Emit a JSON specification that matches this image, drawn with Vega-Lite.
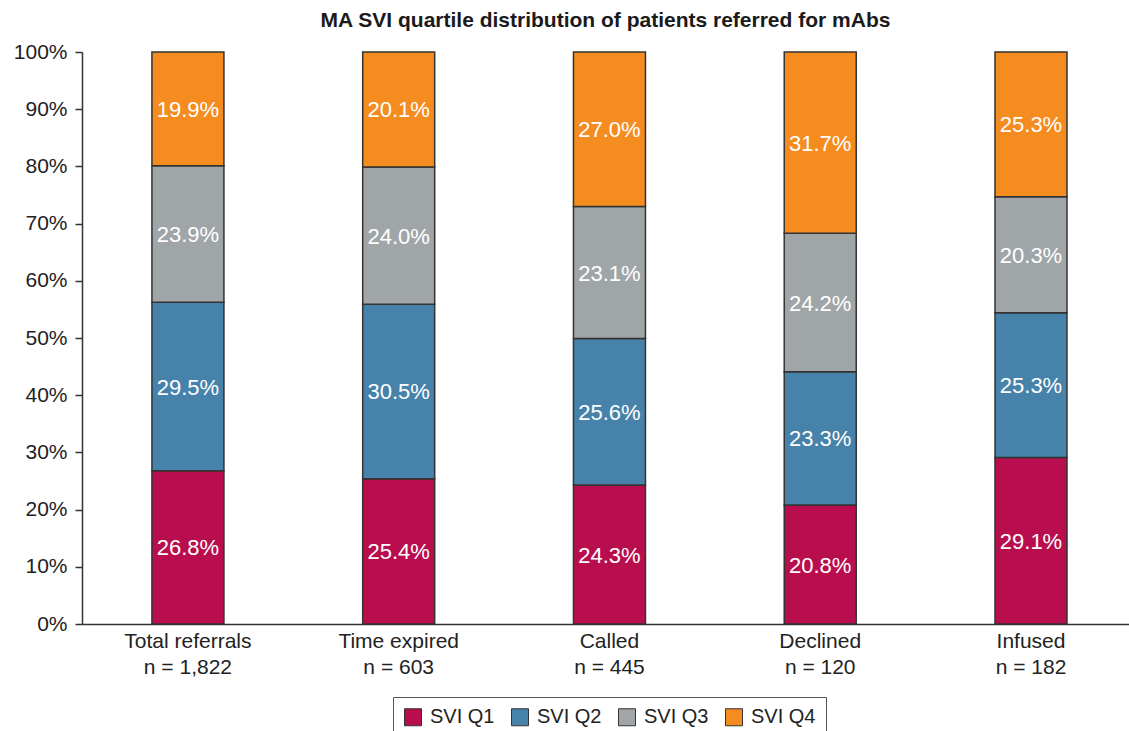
{
  "$schema": "https://vega.github.io/schema/vega-lite/v6.json",
  "width": 1047,
  "height": 572,
  "autosize": {"type": "none"},
  "padding": {"left": 82, "top": 52, "right": 0, "bottom": 107},
  "background": "white",
  "config": {
    "font": "Liberation Sans",
    "view": {"stroke": null}
  },
  "title": {
    "text": "MA SVI quartile distribution of patients referred for mAbs",
    "fontSize": 21,
    "fontWeight": "bold",
    "color": "#1a1a1a",
    "anchor": "middle",
    "offset": 10
  },
  "data": {
    "values": [
      {"group": "Total referrals|n = 1,822", "q": 1, "quartile": "SVI Q1", "value": 26.8},
      {"group": "Total referrals|n = 1,822", "q": 2, "quartile": "SVI Q2", "value": 29.5},
      {"group": "Total referrals|n = 1,822", "q": 3, "quartile": "SVI Q3", "value": 23.9},
      {"group": "Total referrals|n = 1,822", "q": 4, "quartile": "SVI Q4", "value": 19.9},
      {"group": "Time expired|n = 603", "q": 1, "quartile": "SVI Q1", "value": 25.4},
      {"group": "Time expired|n = 603", "q": 2, "quartile": "SVI Q2", "value": 30.5},
      {"group": "Time expired|n = 603", "q": 3, "quartile": "SVI Q3", "value": 24.0},
      {"group": "Time expired|n = 603", "q": 4, "quartile": "SVI Q4", "value": 20.1},
      {"group": "Called|n = 445", "q": 1, "quartile": "SVI Q1", "value": 24.3},
      {"group": "Called|n = 445", "q": 2, "quartile": "SVI Q2", "value": 25.6},
      {"group": "Called|n = 445", "q": 3, "quartile": "SVI Q3", "value": 23.1},
      {"group": "Called|n = 445", "q": 4, "quartile": "SVI Q4", "value": 27.0},
      {"group": "Declined|n = 120", "q": 1, "quartile": "SVI Q1", "value": 20.8},
      {"group": "Declined|n = 120", "q": 2, "quartile": "SVI Q2", "value": 23.3},
      {"group": "Declined|n = 120", "q": 3, "quartile": "SVI Q3", "value": 24.2},
      {"group": "Declined|n = 120", "q": 4, "quartile": "SVI Q4", "value": 31.7},
      {"group": "Infused|n = 182", "q": 1, "quartile": "SVI Q1", "value": 29.1},
      {"group": "Infused|n = 182", "q": 2, "quartile": "SVI Q2", "value": 25.3},
      {"group": "Infused|n = 182", "q": 3, "quartile": "SVI Q3", "value": 20.3},
      {"group": "Infused|n = 182", "q": 4, "quartile": "SVI Q4", "value": 25.3}
    ]
  },
  "transform": [
    {"stack": "value", "groupby": ["group"], "sort": [{"field": "q", "order": "ascending"}], "offset": "normalize", "as": ["y0", "y1"]},
    {"calculate": "(datum.y0 + datum.y1) / 2", "as": "mid"},
    {"calculate": "format(datum.value, '.1f') + '%'", "as": "label"}
  ],
  "encoding": {
    "x": {
      "field": "group",
      "type": "nominal",
      "sort": null,
      "title": null,
      "scale": {"paddingInner": 0.6584, "paddingOuter": 0.313, "align": 0.53},
      "axis": {
        "labelExpr": "split(datum.label, '|')",
        "labelAngle": 0,
        "labelFontSize": 21,
        "labelColor": "#222",
        "labelPadding": 6,
        "labelLineHeight": 26,
        "ticks": false,
        "domainColor": "#333",
        "domainWidth": 1.5,
        "grid": false
      }
    }
  },
  "layer": [
    {
      "mark": {"type": "bar", "stroke": "#333", "strokeWidth": 1.5},
      "encoding": {
        "y": {
          "field": "y0",
          "type": "quantitative",
          "scale": {"domain": [0, 1]},
          "title": null,
          "axis": {
            "values": [0, 0.1, 0.2, 0.3, 0.4, 0.5, 0.6, 0.7, 0.8, 0.9, 1],
            "format": ".0%",
            "labelFontSize": 21,
            "labelColor": "#222",
            "labelPadding": 8,
            "tickSize": 7,
            "tickColor": "#333",
            "tickWidth": 1.5,
            "domainColor": "#333",
            "domainWidth": 1.5,
            "grid": false
          }
        },
        "y2": {"field": "y1"},
        "color": {
          "field": "quartile",
          "type": "nominal",
          "scale": {
            "domain": ["SVI Q1", "SVI Q2", "SVI Q3", "SVI Q4"],
            "range": ["#B90E4E", "#4682A9", "#A0A5A8", "#F48C20"]
          },
          "legend": {
            "title": null,
            "orient": "none",
            "legendX": 311,
            "legendY": 645,
            "direction": "horizontal",
            "symbolType": "square",
            "symbolSize": 289,
            "symbolStrokeColor": "#333",
            "symbolStrokeWidth": 1,
            "symbolOpacity": 1,
            "labelFontSize": 20,
            "labelColor": "#222",
            "strokeColor": "#555",
            "padding": 10,
            "columnPadding": 14,
            "labelOffset": 7
          }
        }
      }
    },
    {
      "mark": {"type": "text", "color": "white", "fontSize": 22, "align": "center", "baseline": "middle", "dy": 1},
      "encoding": {
        "y": {"field": "mid", "type": "quantitative"},
        "text": {"field": "label", "type": "nominal"}
      }
    }
  ]
}
